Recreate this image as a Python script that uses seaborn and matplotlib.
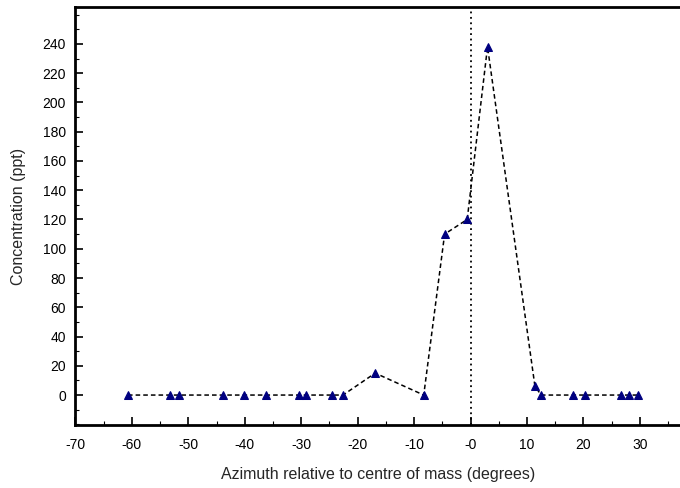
import pandas as pd
import seaborn as sns
import matplotlib
matplotlib.use("Agg")
import matplotlib.pyplot as plt
from matplotlib.ticker import MultipleLocator, FixedLocator, FixedFormatter

# data
azimuth = [-60.7, -53.2, -51.6, -43.8, -40.2, -36.3, -30.4, -29.2, -24.5, -22.6,
           -16.9, -8.3, -4.6, -0.6, 3.0, 11.4, 12.5, 18.1, 20.3, 26.6, 28.1, 29.6]
concentration = [0, 0, 0, 0, 0, 0, 0, 0, 0, 0,
                 15, 0, 110, 120, 238, 6, 0, 0, 0, 0, 0, 0]
x_ticks = [-70, -60, -50, -40, -30, -20, -10, 0, 10, 20, 30]
x_tick_labels = ["-70", "-60", "-50", "-40", "-30", "-20", "-10", "-0", "10", "20", "30"]
y_ticks = [0, 20, 40, 60, 80, 100, 120, 140, 160, 180, 200, 220, 240]

sns.set_theme(style="white")
plt.rcParams['font.family'] = ['Liberation Sans', 'DejaVu Sans']

df = pd.DataFrame({"Azimuth": azimuth, "Concentration": concentration})

fig = plt.figure(figsize=(6.8, 4.88), dpi=100)
ax = fig.add_axes([0.111, 0.129, 0.889, 0.856])

# vertical reference at the centre of mass
ax.axvline(0, color="black", linestyle=(0, (1, 2)), linewidth=1.3, zorder=1)

sns.lineplot(data=df, x="Azimuth", y="Concentration", sort=False, ax=ax,
             color="black", linestyle=(0, (3, 2)), linewidth=1.1,
             marker="^", markersize=6, markerfacecolor="#000080",
             markeredgecolor="#000080", zorder=3)

ax.set_xlim(-70, 37.1)
ax.set_ylim(-20.5, 265)

ax.xaxis.set_major_locator(FixedLocator(x_ticks))
ax.xaxis.set_major_formatter(FixedFormatter(x_tick_labels))
ax.xaxis.set_minor_locator(MultipleLocator(5))
ax.yaxis.set_major_locator(FixedLocator(y_ticks))
ax.yaxis.set_minor_locator(MultipleLocator(10))

ax.tick_params(which="major", direction="in", length=6, width=1.2,
               labelsize=10, colors="black", pad=7)
ax.tick_params(axis="x", which="major", pad=9)
ax.tick_params(which="minor", direction="in", length=3, width=0.8, colors="black")
ax.tick_params(axis="x", which="both", bottom=True, top=False)
ax.tick_params(axis="y", which="both", left=True, right=False)

for side in ["left", "bottom", "top"]:
    ax.spines[side].set_color("black")
    ax.spines[side].set_linewidth(2)
ax.spines["right"].set_visible(False)

ax.set_xlabel("Azimuth relative to centre of mass (degrees)", fontsize=11.5, labelpad=11)
ax.set_ylabel("Concentration (ppt)", fontsize=11.5, labelpad=12)

fig.savefig("out.png", dpi=100)
plt.close(fig)
